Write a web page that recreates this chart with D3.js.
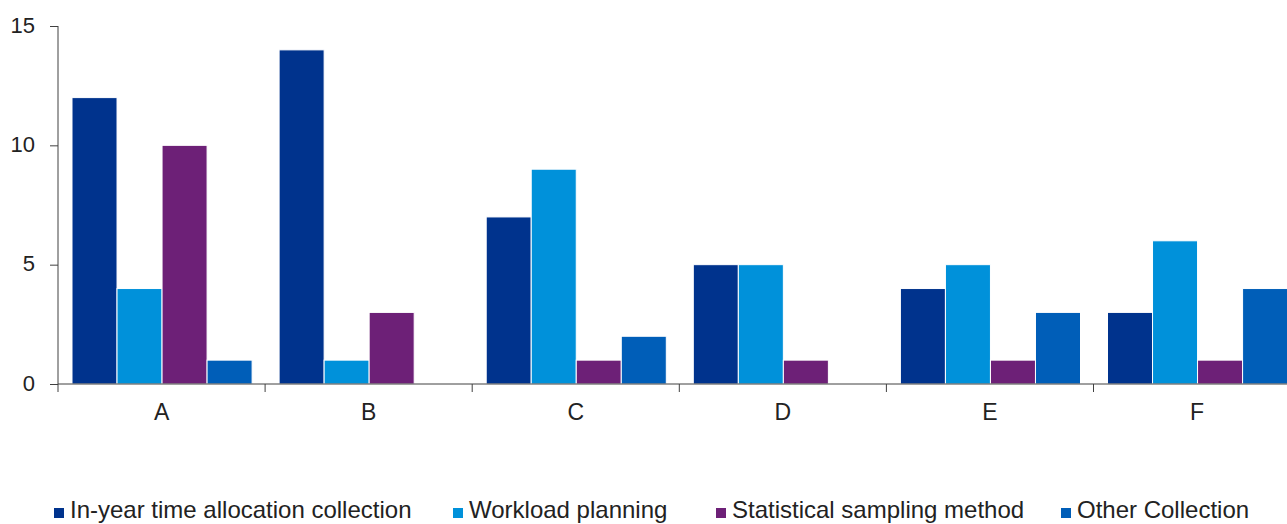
<!DOCTYPE html>
<html>
<head>
<meta charset="utf-8">
<script src="https://cdn.jsdelivr.net/npm/d3@7"></script>
<style>
  html, body { margin: 0; padding: 0; background: #fff; overflow: hidden; }
  svg { display: block; font-family: "Liberation Sans", Arial, sans-serif; }
</style>
</head>
<body>
<svg id="chart" width="1287" height="524"></svg>
<script>
const categories = ["A", "B", "C", "D", "E", "F"];
const seriesNames = ["In-year time allocation collection", "Workload planning", "Statistical sampling method", "Other Collection"];
const seriesColors = ["#00338D", "#0091DA", "#6D2077", "#005EB8"];
const inYear = [12, 14, 7, 5, 4, 3];
const workload = [4, 1, 9, 5, 5, 6];
const sampling = [10, 3, 1, 1, 1, 1];
const other = [1, 0, 2, 0, 3, 4];
const yTicks = [0, 5, 10, 15];

const series = [inYear, workload, sampling, other];
const svg = d3.select("#chart");

const x0 = d3.scaleBand().domain(categories).range([58, 1300.6]).paddingInner(0).paddingOuter(0);
const x1 = d3.scaleBand().domain(d3.range(series.length))
  .range([14, x0.bandwidth() - 13]).padding(0);
const y = d3.scaleLinear().domain([0, 15]).range([384, 26]);

// bars
const groups = svg.append("g").selectAll("g").data(categories).join("g")
  .attr("transform", d => `translate(${x0(d)},0)`);
groups.selectAll("rect")
  .data((c, ci) => series.map((s, si) => ({ si, v: s[ci] })).filter(d => d.v > 0))
  .join("rect")
  .attr("x", d => x1(d.si))
  .attr("width", x1.bandwidth())
  .attr("y", d => y(d.v))
  .attr("height", d => y(0) - y(d.v))
  .attr("fill", d => seriesColors[d.si])
  .attr("stroke", "#fff")
  .attr("stroke-width", 1);

// y axis
const yAxis = svg.append("g").attr("transform", "translate(58,0)")
  .call(d3.axisLeft(y).tickValues(yTicks).tickSize(8).tickPadding(15));
yAxis.select(".domain").attr("stroke", "#404040").attr("d", "M0,26V392");
yAxis.selectAll(".tick line").attr("stroke", "#404040");
yAxis.selectAll("text").attr("font-size", 22).attr("fill", "#222").attr("dy", "0.28em")
  .attr("font-family", "Liberation Sans, Arial, sans-serif");

// x axis
const xAxis = svg.append("g").attr("transform", `translate(0,${y(0)})`)
  .call(d3.axisBottom(x0).tickSize(0).tickPadding(20));
xAxis.select(".domain").attr("stroke", "#404040").attr("d", "M58,0H1300.6");
xAxis.selectAll("text").attr("font-size", 23).attr("fill", "#222")
  .attr("font-family", "Liberation Sans, Arial, sans-serif");
svg.append("g").selectAll("line").data(categories.slice(1)).join("line")
  .attr("x1", d => x0(d)).attr("x2", d => x0(d))
  .attr("y1", y(0)).attr("y2", y(0) + 8)
  .attr("stroke", "#404040");

// legend
const legendX = [54, 453, 716, 1061];
const legend = svg.append("g").selectAll("g").data(seriesNames).join("g")
  .attr("transform", (d, i) => `translate(${legendX[i]},518)`);
legend.append("rect").attr("x", 0).attr("y", -10).attr("width", 10).attr("height", 10)
  .attr("fill", (d, i) => seriesColors[i]);
legend.append("text").attr("x", 16).attr("y", 0)
  .attr("font-size", 24).attr("fill", "#222").text(d => d);
</script>
</body>
</html>
